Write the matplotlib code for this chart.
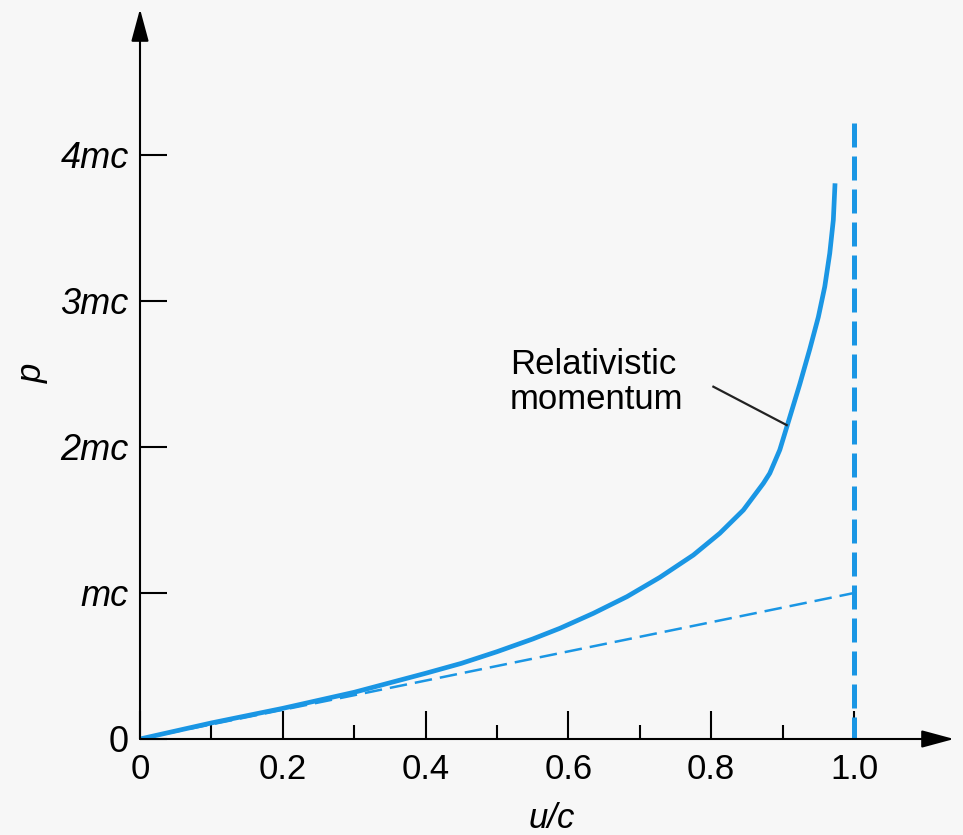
import numpy as np
import matplotlib.pyplot as plt
from matplotlib.patches import ArrowStyle

plt.rcParams['font.family'] = ['Liberation Sans', 'DejaVu Sans']

# relativistic momentum p (in units of mc)
u_rel = [0, 0.1, 0.2, 0.3, 0.4, 0.45, 0.5, 0.55, 0.588, 0.635, 0.682, 0.728,
         0.775, 0.812, 0.845, 0.873, 0.882, 0.896, 0.906, 0.924, 0.938, 0.950,
         0.959, 0.966, 0.971, 0.9734]
p_rel = [0, 0.11, 0.21, 0.32, 0.45, 0.518, 0.598, 0.685, 0.758, 0.861, 0.975, 1.107,
         1.26, 1.409, 1.568, 1.751, 1.82, 1.98, 2.14, 2.43, 2.67, 2.89,
         3.098, 3.327, 3.555, 3.806]

# classical momentum (thin dashed line)
u_cls = [0, 1.0]
p_cls = [0, 1.0]

# speed of light limit (thick dashed line), drawn from the top down
u_lim = [1.0, 1.0]
p_lim = [4.22, 0]

x_major = [0, 0.2, 0.4, 0.6, 0.8, 1.0]
x_labels = ['0', '0.2', '0.4', '0.6', '0.8', '1.0']
x_minor = [0.1, 0.3, 0.5, 0.7, 0.9]
y_ticks = [0, 1, 2, 3, 4]
y_labels = ['0', 'mc', '2mc', '3mc', '4mc']

blue = '#1a96e4'
bg = '#f7f7f7'

fig = plt.figure(figsize=(9.63, 8.35), dpi=100, facecolor=bg)
ax = fig.add_axes([140 / 963, 96 / 835, 814 / 963, 730 / 835])
ax.set_facecolor(bg)
ax.set_xlim(0, 1.14)
ax.set_ylim(0, 5.0)
for s in ax.spines.values():
    s.set_visible(False)

ax.plot(u_cls, p_cls, color=blue, lw=1.8, dashes=(7, 3.2))
ax.plot(u_lim, p_lim, color=blue, lw=3.6, dashes=(4.8, 1.8), clip_on=False)
ax.plot(u_rel, p_rel, color=blue, lw=3.4, solid_capstyle='butt',
        solid_joinstyle='round')

# axes with arrow heads
arrow = ArrowStyle('-|>', head_length=1.0, head_width=0.27)
for end in [(1.14, 0), (0, 5.0)]:
    ax.annotate('', xy=end, xytext=(0, 0), xycoords='data',
                arrowprops=dict(arrowstyle=arrow, mutation_scale=20, lw=1.5,
                                color='black', shrinkA=0, shrinkB=0),
                annotation_clip=False)

ax.set_xticks(x_major)
ax.set_xticklabels(x_labels)
ax.set_xticks(x_minor, minor=True)
ax.set_yticks(y_ticks)
ax.set_yticklabels(y_labels)
ax.tick_params(axis='x', which='major', direction='in', length=20, width=1.5,
               labelsize=25, pad=10)
ax.tick_params(axis='x', which='minor', direction='in', length=10, width=1.5)
ax.tick_params(axis='y', direction='in', length=19.5, width=1.5,
               labelsize=26, pad=8)
for lab in ax.get_yticklabels()[1:]:
    lab.set_fontstyle('italic')

ax.text(0.518, 2.68, 'Relativistic\nmomentum', fontsize=25, ha='left', va='top',
        linespacing=1.1)
ax.plot([0.803, 0.9057], [2.413, 2.15], color='#222222', lw=1.6)

fig.text(552 / 963, 1 - 818 / 835, 'u/c', fontsize=25, fontstyle='italic',
         ha='center', va='center')
fig.text(32 / 963, 1 - 373 / 835, 'p', fontsize=25, fontstyle='italic',
         rotation=90, ha='center', va='center')

fig.savefig('out.png', dpi=100, facecolor=bg)
